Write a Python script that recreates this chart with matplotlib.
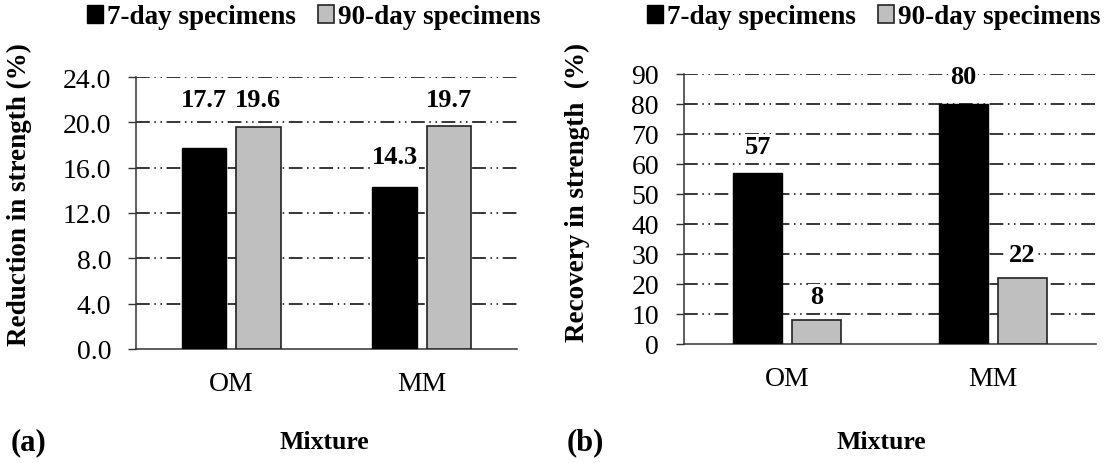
import matplotlib
matplotlib.use("Agg")
import matplotlib.pyplot as plt
import numpy as np

plt.rcParams['font.family'] = ['Liberation Serif', 'DejaVu Serif']

categories = ["OM", "MM"]
series_names = ["7-day specimens", "90-day specimens"]
reduction_7 = [17.7, 14.3]
reduction_90 = [19.6, 19.7]
recovery_7 = [57, 80]
recovery_90 = [8, 22]
ticks_a = [0, 4, 8, 12, 16, 20, 24]
ticks_b = [0, 10, 20, 30, 40, 50, 60, 70, 80, 90]

colors = ["#000000", "#bfbfbf"]
grid_ls = (0, (9, 3, 1, 3, 1, 3))

fig = plt.figure(figsize=(11.16, 4.64), dpi=100)

def make_panel(rect, v7, v90, ticks, fmt, ylabel, offsets7, offsets90, letter, lettx, mixx, legx):
    ax = fig.add_axes(rect)
    x = np.arange(len(categories))
    w = 0.235
    gap = 0.05
    b1 = ax.bar(x - (w + gap) / 2, v7, w, color=colors[0], edgecolor="black", linewidth=1.0, zorder=3, label=series_names[0])
    b2 = ax.bar(x + (w + gap) / 2, v90, w, color=colors[1], edgecolor="#222222", linewidth=1.2, zorder=3, label=series_names[1])
    for bars, vals, offs in ((b1, v7, offsets7), (b2, v90, offsets90)):
        for rect_, v, o in zip(bars, vals, offs):
            ax.annotate(fmt.format(v), (rect_.get_x() + rect_.get_width() / 2, v),
                        xytext=(0, o), textcoords="offset points", ha="center", va="center",
                        fontsize=19, fontweight="bold", zorder=4,
                        bbox=dict(facecolor="white", edgecolor="none", pad=1))
    ax.set_xlim(-0.5, 1.5)
    ax.set_ylim(ticks[0], ticks[-1])
    ax.set_yticks(ticks)
    ax.set_yticklabels([fmt.format(t) for t in ticks], fontsize=20)
    ax.set_xticks(x)
    ax.set_xticklabels(categories, fontsize=20)
    ax.tick_params(axis="x", length=0, pad=16)
    ax.tick_params(axis="y", length=6, width=1.0, color="#333333", pad=12)
    for t in ticks[1:]:
        ax.axhline(t, color="black", linewidth=1.1, linestyle=grid_ls, zorder=1)
    for s in ("top", "right"):
        ax.spines[s].set_visible(False)
    for s in ("left", "bottom"):
        ax.spines[s].set_color("#333333")
        ax.spines[s].set_linewidth(1.1)
    ax.set_ylabel(ylabel, fontsize=19.5, fontweight="bold")
    fig.text(lettx, 1 - 443 / 464, letter, fontsize=22, fontweight="bold", va="center", ha="left")
    fig.text(mixx, 1 - 443 / 464, "Mixture", fontsize=18.5, fontweight="bold", va="center", ha="center")
    fig.legend(handles=[b1, b2], loc="center", bbox_to_anchor=(legx, 1 - 18 / 464), ncol=2, frameon=False,
               prop=dict(weight="bold", size=19.5), handlelength=0.6, handleheight=0.6,
               handletextpad=0.15, columnspacing=0.8, borderaxespad=0)
    return ax

axa = make_panel([136 / 1116, 1 - 350 / 464, 381 / 1116, 272 / 464], reduction_7, reduction_90, ticks_a, "{:.1f}",
                 "Reduction in strength (%)", [35, 22], [20, 19], "(a)", 11 / 1116, 324 / 1116, 314 / 1116)
axa.yaxis.set_label_coords(-0.273, 0.57)
axb = make_panel([684 / 1116, 1 - 345 / 464, 412 / 1116, 270 / 464], recovery_7, recovery_90, ticks_b, "{:.0f}",
                 "Recovery in strength  (%)", [19, 20], [17, 17], "(b)", 567 / 1116, 881 / 1116, 874 / 1116)
axb.yaxis.set_label_coords(-0.228, 0.565)

fig.savefig("out.png", dpi=100, facecolor="white")
